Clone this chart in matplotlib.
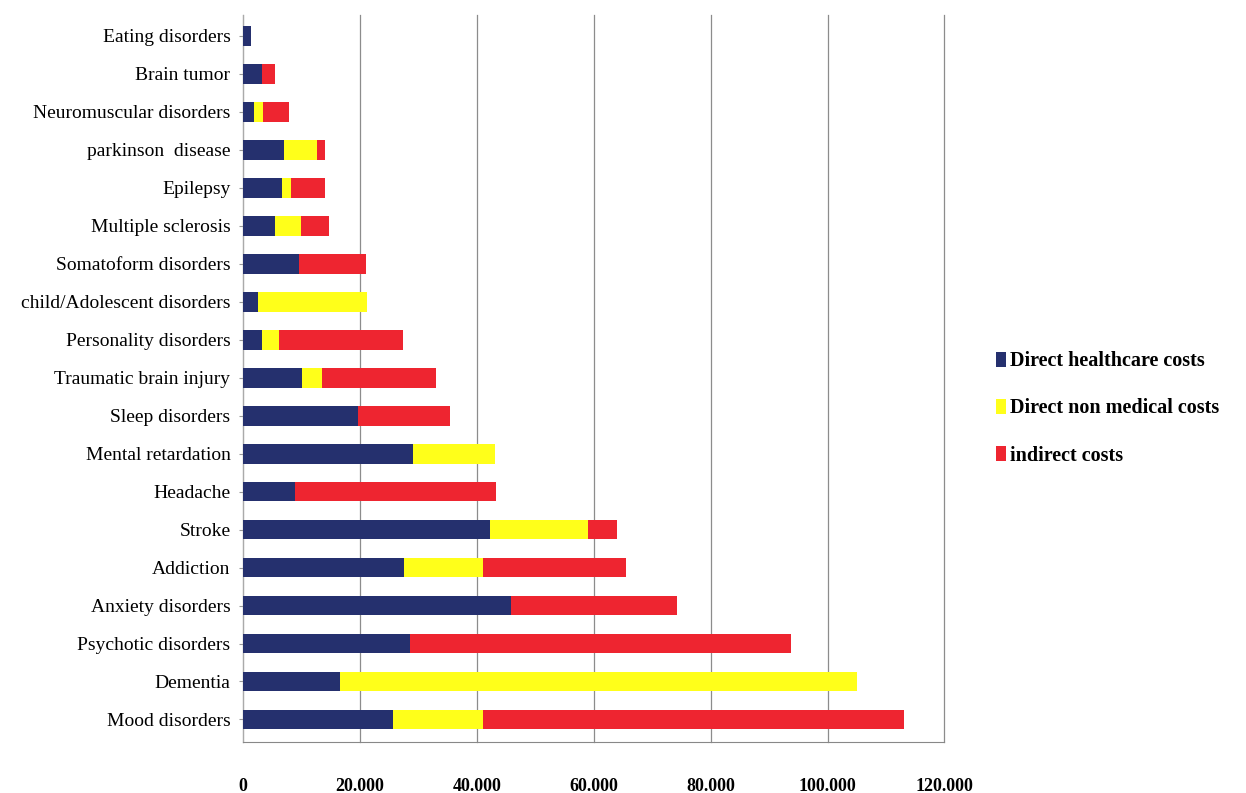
import matplotlib
matplotlib.use('Agg')
import matplotlib.pyplot as plt
from matplotlib.ticker import FuncFormatter
import numpy as np

# categories listed bottom to top
categories = ['Mood disorders', 'Dementia', 'Psychotic disorders', 'Anxiety disorders',
              'Addiction', 'Stroke', 'Headache', 'Mental retardation', 'Sleep disorders',
              'Traumatic brain injury', 'Personality disorders', 'child/Adolescent disorders',
              'Somatoform disorders', 'Multiple sclerosis', 'Epilepsy', 'parkinson  disease',
              'Neuromuscular disorders', 'Brain tumor', 'Eating disorders']

direct_health = [25700, 16600, 28600, 45900, 27600, 42300, 8900, 29100, 19700,
                 10100, 3300, 2500, 9600, 5400, 6600, 7100, 1900, 3300, 1300]
direct_nonmed = [15300, 88500, 0, 0, 13400, 16800, 0, 14000, 0,
                 3400, 2800, 18700, 0, 4500, 1600, 5600, 1600, 0, 0]
indirect = [72100, 0, 65100, 28300, 24500, 4800, 34400, 0, 15800,
            19500, 21200, 0, 11500, 4800, 5800, 1400, 4400, 2100, 0]

series_names = ['Direct healthcare costs', 'Direct non medical costs', 'indirect costs']
colours = ['#25306E', '#FFFF1A', '#EE2530']

plt.rcParams['font.family'] = ['Liberation Serif', 'DejaVu Serif']

fig = plt.figure(figsize=(12.46, 7.93), dpi=100)
ax = fig.add_axes([0.195, 0.064, 0.563, 0.917])

y = np.arange(len(categories))
left = np.zeros(len(categories))
for vals, name, c in zip([direct_health, direct_nonmed, indirect], series_names, colours):
    vals = np.array(vals, dtype=float)
    ax.barh(y, vals, left=left, height=0.52, color=c, label=name, zorder=3)
    left += vals

ax.set_xlim(0, 120000)
ax.set_ylim(-0.6, len(categories) - 0.45)
ax.set_xticks(np.arange(0, 120001, 20000))
ax.xaxis.set_major_formatter(FuncFormatter(lambda v, p: f'{int(v):,}'.replace(',', '.')))
ax.set_yticks(y)
ax.set_yticklabels(categories, fontsize=14)
ax.tick_params(axis='x', length=0, pad=26, labelsize=13)
for t in ax.get_xticklabels():
    t.set_fontweight('bold')
ax.tick_params(axis='y', length=3, color='#999999', pad=6)
ax.grid(axis='x', color='#8c8c8c', linewidth=0.9, zorder=0)
for gl in ax.get_xgridlines():
    gl.set_clip_on(False)

for s in ['top', 'right']:
    ax.spines[s].set_visible(False)
ax.spines['left'].set_color('#aaaaaa')
ax.spines['bottom'].set_color('#888888')

leg = fig.legend(loc='center left', bbox_to_anchor=(0.785, 0.485), frameon=False,
                 handlelength=0.5, handleheight=0.8, handletextpad=0.2,
                 labelspacing=1.35, prop={'weight': 'bold', 'size': 14.5})

fig.savefig('out.png', dpi=100)
